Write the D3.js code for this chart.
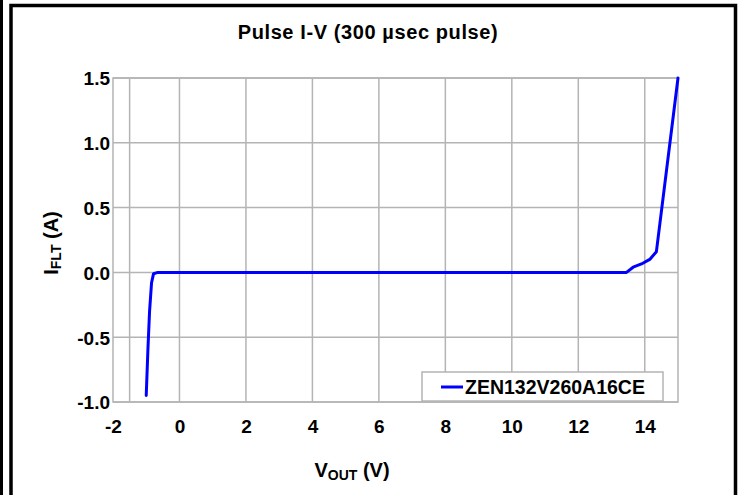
<!DOCTYPE html>
<html lang="en">
<head>
    <meta charset="UTF-8">
    <title>Pulse I-V (300 µsec pulse)</title>
    <script src="https://cdnjs.cloudflare.com/ajax/libs/d3/7.8.5/d3.min.js"></script>
    <style>
        body {
            margin: 0;
            background: #fff;
            font-family: Arial, "Liberation Sans", sans-serif;
        }
        .tick text {
            font-size: 19px;
            font-weight: bold;
            fill: #000;
        }
    </style>
</head>
<body>
    <div id="chart"></div>

    <script>
        // Curve: V_OUT (V) vs I_FLT (A)
        const vOut = [-1.0, -0.95, -0.9, -0.84, -0.78, -0.65, 13.45, 13.65, 13.9, 14.15, 14.35, 15.0];
        const iFlt = [-0.95, -0.6, -0.3, -0.08, -0.01, 0.0, 0.0, 0.04, 0.065, 0.1, 0.16, 1.5];

        const xTicks = [-2, 0, 2, 4, 6, 8, 10, 12, 14];
        const xGrid = [-1.5, 0, 2, 4, 6, 8, 10, 12, 14];
        const yTicks = [-1.0, -0.5, 0.0, 0.5, 1.0, 1.5];
        const seriesName = "ZEN132V260A16CE";

        const W = 743, H = 495;
        const plot = {left: 113, right: 678, top: 78, bottom: 402};

        const svg = d3.select("#chart")
            .append("svg")
            .attr("width", W)
            .attr("height", H);

        // frame lines
        svg.append("line").attr("x1", 1.5).attr("x2", 1.5).attr("y1", 0).attr("y2", H)
            .attr("stroke", "#000").attr("stroke-width", 3);
        svg.append("path")
            .attr("d", `M11,${H} V5.5 H735.5 V${H}`)
            .attr("fill", "none").attr("stroke", "#000").attr("stroke-width", 3.5);

        const x = d3.scaleLinear().domain([-2, 15]).range([plot.left, plot.right]);
        const y = d3.scaleLinear().domain([-1, 1.5]).range([plot.bottom, plot.top]);

        // grid
        svg.append("g").selectAll("line").data(xGrid).enter().append("line")
            .attr("x1", d => x(d)).attr("x2", d => x(d))
            .attr("y1", plot.top).attr("y2", plot.bottom)
            .attr("stroke", "#b4b4b4").attr("stroke-width", 1.5);
        svg.append("g").selectAll("line").data(yTicks).enter().append("line")
            .attr("x1", plot.left).attr("x2", plot.right)
            .attr("y1", d => y(d)).attr("y2", d => y(d))
            .attr("stroke", "#b4b4b4").attr("stroke-width", 1.5);
        svg.append("rect")
            .attr("x", plot.left).attr("y", plot.top)
            .attr("width", plot.right - plot.left).attr("height", plot.bottom - plot.top)
            .attr("fill", "none").attr("stroke", "#b4b4b4").attr("stroke-width", 1.5);

        // axes (labels only), plain hyphen as minus
        const xAxis = svg.append("g")
            .attr("transform", `translate(0,${plot.bottom})`)
            .call(d3.axisBottom(x).tickValues(xTicks).tickSize(0).tickPadding(18)
                .tickFormat(d => String(d)));
        const yAxis = svg.append("g")
            .attr("transform", `translate(${plot.left},0)`)
            .call(d3.axisLeft(y).tickValues(yTicks).tickSize(0).tickPadding(3)
                .tickFormat(d => d.toFixed(1)));
        xAxis.select(".domain").remove();
        yAxis.select(".domain").remove();
        xAxis.selectAll("text").attr("font-family", "Arial, sans-serif");
        yAxis.selectAll("text").attr("font-family", "Arial, sans-serif").attr("dy", "0.36em");

        // curve
        const pts = vOut.map((v, i) => [v, iFlt[i]]);
        svg.append("path")
            .datum(pts)
            .attr("fill", "none")
            .attr("stroke", "#0000ff")
            .attr("stroke-width", 3)
            .attr("stroke-linejoin", "round")
            .attr("stroke-linecap", "round")
            .attr("d", d3.line().x(d => x(d[0])).y(d => y(d[1])));

        // legend
        const lg = svg.append("g").attr("transform", "translate(422,372)");
        lg.append("rect").attr("width", 241).attr("height", 29)
            .attr("fill", "#fff").attr("stroke", "#b4b4b4").attr("stroke-width", 1.5);
        lg.append("line").attr("x1", 19).attr("x2", 41).attr("y1", 15).attr("y2", 15)
            .attr("stroke", "#0000ff").attr("stroke-width", 3);
        lg.append("text").attr("x", 43).attr("y", 22)
            .attr("font-size", 19.5).attr("font-weight", "bold")
            .text(seriesName);

        // title
        svg.append("text")
            .attr("x", 368).attr("y", 39)
            .attr("text-anchor", "middle")
            .attr("font-size", 20).attr("font-weight", "bold")
            .attr("letter-spacing", 0.6)
            .text("Pulse I-V (300 µsec pulse)");

        // x label
        const xl = svg.append("text")
            .attr("x", 352).attr("y", 477)
            .attr("text-anchor", "middle")
            .attr("font-size", 20).attr("font-weight", "bold");
        xl.append("tspan").text("V");
        xl.append("tspan").attr("font-size", 14).attr("dy", 3).text("OUT");
        xl.append("tspan").attr("dy", -3).text(" (V)");

        // y label
        const yl = svg.append("text")
            .attr("transform", "translate(58,243) rotate(-90)")
            .attr("text-anchor", "middle")
            .attr("font-size", 20).attr("font-weight", "bold");
        yl.append("tspan").text("I");
        yl.append("tspan").attr("font-size", 14).attr("dy", 3).text("FLT");
        yl.append("tspan").attr("dy", -3).text(" (A)");
    </script>
</body>
</html>
